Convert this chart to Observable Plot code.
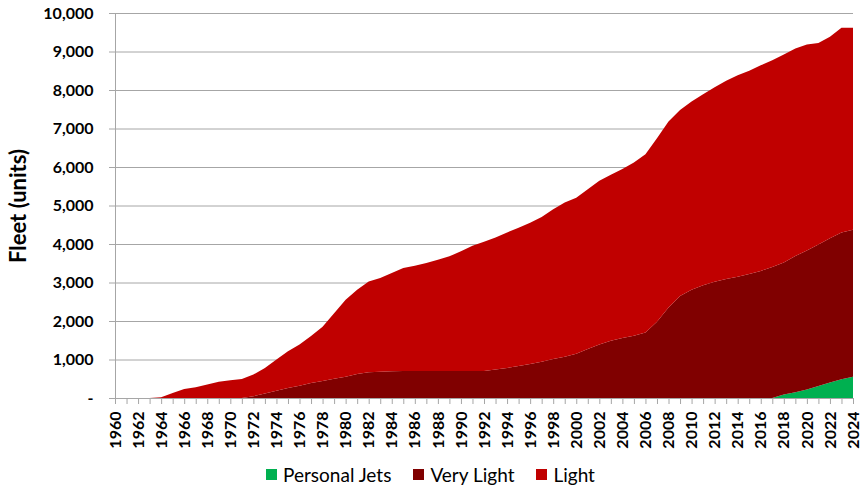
<!DOCTYPE html>
<html>
<head>
<meta charset="utf-8">
<script src="https://cdn.jsdelivr.net/npm/d3@7"></script>
<script src="https://cdn.jsdelivr.net/npm/@observablehq/plot@0.6"></script>
<style>
  html, body { margin: 0; padding: 0; background: #fff; }
  body { width: 861px; height: 486px; font-family: Lato, "Open Sans", sans-serif; }
  #legend { display: flex; justify-content: center; align-items: center; width: 861px; height: 24px; margin-top: 7px; font-size: 19px; color: #000; }
  #legend .item { display: flex; align-items: center; margin: 0 11px; }
  #legend .sw { width: 11px; height: 11px; margin-right: 6px; }
  #chart svg { display: block; }
</style>
</head>
<body>
<div id="chart"></div>
<div id="legend"></div>
<script>
const years = d3.range(1960, 2025);
const seriesNames = ["Personal Jets", "Very Light", "Light"];
const seriesColors = ["#00B050", "#800000", "#C00000"];

const personal = [
  0,0,0,0,0,0,0,0,0,0,            // 1960-1969
  0,0,0,0,0,0,0,0,0,0,            // 1970-1979
  0,0,0,0,0,0,0,0,0,0,            // 1980-1989
  0,0,0,0,0,0,0,0,0,0,            // 1990-1999
  0,0,0,0,0,0,0,0,0,0,            // 2000-2009
  0,0,0,0,0,0,0,0,90,150,         // 2010-2019
  220,310,400,490,550             // 2020-2024
];
const veryLight = [
  0,0,0,0,0,0,0,0,0,0,
  0,0,45,115,190,260,320,390,440,500,
  550,625,670,685,695,700,700,700,700,700,
  700,700,700,740,780,830,880,940,1010,1070,
  1150,1270,1390,1490,1560,1620,1700,1980,2350,2650,
  2810,2930,3020,3090,3150,3220,3300,3400,3430,3540,
  3610,3680,3750,3810,3820
];
const light = [
  0,0,0,0,20,130,235,280,350,420,
  460,495,565,665,810,955,1070,1220,1410,1700,
  2000,2185,2355,2430,2550,2675,2735,2805,2890,2980,
  3110,3255,3360,3430,3520,3590,3670,3760,3890,4010,
  4050,4150,4250,4310,4390,4500,4630,4770,4830,4830,
  4890,4960,5050,5150,5230,5280,5340,5370,5400,5390,
  5350,5230,5230,5320,5250
];
const yTicks = d3.range(0, 10001, 1000);
const xLabelYears = years.filter(y => y % 2 === 0);

const seriesValues = [personal, veryLight, light];
const data = [];
seriesNames.forEach((name, i) => {
  years.forEach((yr, j) => data.push({series: name, year: yr, value: seriesValues[i][j]}));
});

const grey = "#A6A6A6";
const chart = Plot.plot({
  width: 861,
  height: 455,
  marginTop: 13,
  marginBottom: 57,
  marginLeft: 115,
  marginRight: 8,
  style: {fontFamily: "Lato, 'Open Sans', sans-serif", color: "#000", background: "#fff", overflow: "visible"},
  x: {domain: [1960, 2024], label: null},
  y: {domain: [0, 10000], label: null},
  color: {domain: seriesNames, range: seriesColors},
  marks: [
    Plot.gridY(yTicks, {stroke: grey, strokeOpacity: 1, strokeWidth: 1}),
    Plot.areaY(data, {x: "year", y: "value", fill: "series", z: "series", order: seriesNames, curve: "linear"}),
    Plot.ruleX([1960], {stroke: grey, strokeWidth: 1}),
    Plot.ruleY([0], {stroke: grey, strokeWidth: 1}),
    Plot.axisY({ticks: yTicks, tickSize: 6, tickPadding: 16, stroke: grey,
      tickFormat: d => d === 0 ? "-" : d3.format(",")(d),
      fontSize: 16, fontWeight: "bold", label: null}),
    Plot.axisX({ticks: years, tickSize: 6, stroke: grey, tickFormat: () => "", label: null}),
    Plot.axisX({ticks: xLabelYears, tickSize: 0, tickPadding: 13, tickRotate: -90,
      tickFormat: d => String(d), fontSize: 16, fontWeight: "bold", label: null}),
    Plot.text(["Fleet (units)"], {frameAnchor: "left", rotate: -90, dx: -97, textAnchor: "middle",
      fontSize: 22, fontWeight: "bold", fill: "#000"})
  ]
});
document.getElementById("chart").appendChild(chart);

const legend = document.getElementById("legend");
seriesNames.forEach((name, i) => {
  const item = document.createElement("div");
  item.className = "item";
  const sw = document.createElement("div");
  sw.className = "sw";
  sw.style.background = seriesColors[i];
  const t = document.createElement("span");
  t.textContent = name;
  item.appendChild(sw);
  item.appendChild(t);
  legend.appendChild(item);
});
</script>
</body>
</html>
